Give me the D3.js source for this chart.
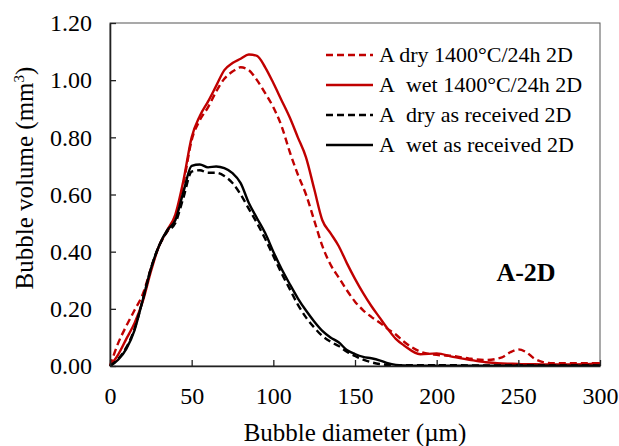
<!DOCTYPE html>
<html>
<head>
<meta charset="utf-8">
<script src="https://cdn.jsdelivr.net/npm/d3@7"></script>
<style>
  body { margin: 0; background: #fff; }
  svg text { font-family: "Liberation Serif", "Times New Roman", Times, "DejaVu Serif", serif; fill: #000; }
</style>
</head>
<body>
<svg id="chart" width="619" height="446"></svg>
<script>
// bubble diameter (um)
var diameters = [0, 5, 10, 15, 20, 25, 30, 35, 40, 45, 50, 55, 60, 65, 70, 75, 80, 85, 90, 95,
  100, 105, 110, 115, 120, 125, 130, 135, 140, 145, 150, 155, 160, 165, 170, 175, 180,
  190, 200, 210, 220, 230, 240, 245, 250, 255, 260, 270, 280, 290, 300];

var dry1400 = [0, 0.08, 0.14, 0.195, 0.25, 0.34, 0.42, 0.47, 0.52, 0.64, 0.79, 0.86, 0.905, 0.96, 1.005, 1.03, 1.045, 1.035, 1.00, 0.955,
  0.905, 0.84, 0.75, 0.67, 0.60, 0.51, 0.42, 0.355, 0.31, 0.265, 0.225, 0.195, 0.172, 0.152, 0.13, 0.11, 0.085,
  0.05, 0.039, 0.035, 0.026, 0.021, 0.03, 0.048, 0.058, 0.048, 0.025, 0.01, 0.01, 0.01, 0.01];

var wet1400 = [0, 0.04, 0.095, 0.15, 0.225, 0.33, 0.42, 0.475, 0.53, 0.65, 0.80, 0.875, 0.925, 0.98, 1.035, 1.06, 1.075, 1.09, 1.085, 1.045,
  0.99, 0.93, 0.87, 0.80, 0.73, 0.62, 0.51, 0.465, 0.42, 0.36, 0.305, 0.255, 0.21, 0.17, 0.13, 0.095, 0.072,
  0.041, 0.044, 0.032, 0.022, 0.013, 0.009, 0.008, 0.007, 0.006, 0.006, 0.005, 0.005, 0.006, 0.01];

var dryReceived = [0, 0.025, 0.065, 0.13, 0.23, 0.34, 0.42, 0.47, 0.50, 0.59, 0.68, 0.685, 0.676, 0.676, 0.665, 0.64, 0.60, 0.55, 0.50, 0.445,
  0.385, 0.325, 0.27, 0.215, 0.17, 0.135, 0.105, 0.085, 0.07, 0.05, 0.035, 0.022, 0.013, 0.007, 0.004, 0.003, 0.003,
  0.003, 0.003, 0.003, 0.002, 0.002, 0.002, 0.002, 0.002, 0.002, 0.002, 0.002, 0.002, 0.002, 0.002];

var wetReceived = [0, 0.022, 0.06, 0.125, 0.23, 0.34, 0.42, 0.475, 0.51, 0.61, 0.70, 0.705, 0.695, 0.698, 0.692, 0.675, 0.64, 0.57, 0.517, 0.465,
  0.40, 0.34, 0.287, 0.237, 0.194, 0.156, 0.123, 0.10, 0.083, 0.056, 0.042, 0.032, 0.027, 0.02, 0.01, 0.004, 0.002,
  0.001, 0.001, 0.001, 0.001, 0.001, 0.001, 0.001, 0.001, 0.001, 0.001, 0.001, 0.001, 0.001, 0.001];

var xTicks = [0, 50, 100, 150, 200, 250, 300];
var yTicks = [0, 0.2, 0.4, 0.6, 0.8, 1.0, 1.2];

var seriesNames = ["A dry 1400°C/24h 2D", "A\u00A0 wet 1400°C/24h 2D", "A\u00A0 dry as received 2D", "A\u00A0 wet as received 2D"];
var seriesValues = [dry1400, wet1400, dryReceived, wetReceived];
var seriesColors = ["#C00000", "#C00000", "#000000", "#000000"];
var seriesDashed = [true, false, true, false];

var serif = "'Liberation Serif', 'Times New Roman', Times, 'DejaVu Serif', serif";

var svg = d3.select("#chart");
var margin = { left: 110, right: 19, top: 23, bottom: 80 };
var width = 619, height = 446;

var x = d3.scaleLinear().domain([0, 300]).range([margin.left, width - margin.right]);
var y = d3.scaleLinear().domain([0, 1.2]).range([height - margin.bottom, margin.top]);

// plot frame (top and right)
svg.append("rect")
  .attr("x", x(0)).attr("y", y(1.2))
  .attr("width", x(300) - x(0)).attr("height", y(0) - y(1.2))
  .attr("fill", "none").attr("stroke", "#555").attr("stroke-width", 1);

// curves
var line = d3.line()
  .x(function(d) { return x(d[0]); })
  .y(function(d) { return y(d[1]); })
  .curve(d3.curveMonotoneX);

seriesValues.forEach(function(vals, i) {
  var pts = diameters.map(function(d, j) { return [d, vals[j]]; });
  svg.append("path")
    .datum(pts)
    .attr("d", line)
    .attr("fill", "none")
    .attr("stroke", seriesColors[i])
    .attr("stroke-width", 2.4)
    .attr("stroke-dasharray", seriesDashed[i] ? "7,4" : null);
});

// axes
var xAxis = d3.axisBottom(x).tickValues(xTicks).tickSizeInner(-6).tickSizeOuter(0).tickPadding(21)
  .tickFormat(d3.format("d"));
var yAxis = d3.axisLeft(y).tickValues(yTicks).tickSizeInner(-6).tickSizeOuter(0).tickPadding(18)
  .tickFormat(d3.format(".2f"));

var gx = svg.append("g").attr("transform", "translate(0," + y(0) + ")").call(xAxis);
var gy = svg.append("g").attr("transform", "translate(" + x(0) + ",0)").call(yAxis);

[gx, gy].forEach(function(g) {
  g.attr("font-family", serif);
  g.select(".domain").attr("stroke", "#222").attr("stroke-width", 1.6);
  g.selectAll(".tick line").attr("stroke", "#222").attr("stroke-width", 1.3);
  g.selectAll(".tick text")
    .style("font-family", serif)
    .attr("font-size", 24).attr("fill", "#000");
});

// axis titles
svg.append("text")
  .attr("x", 355).attr("y", 441)
  .attr("text-anchor", "middle")
  .style("font-family", serif)
  .attr("font-size", 25)
  .text("Bubble diameter (µm)");

var yTitle = svg.append("text")
  .attr("transform", "translate(33,178) rotate(-90)")
  .attr("text-anchor", "middle")
  .style("font-family", serif)
  .attr("font-size", 25);
yTitle.append("tspan").text("Bubble volume (mm");
yTitle.append("tspan").attr("font-size", 15).attr("dy", -9).text("3");
yTitle.append("tspan").attr("dy", 9).text(")");

// legend
var legend = svg.append("g");
seriesNames.forEach(function(name, i) {
  var ly = 55 + i * 30;
  legend.append("line")
    .attr("x1", 326).attr("x2", 373).attr("y1", ly).attr("y2", ly)
    .attr("stroke", seriesColors[i]).attr("stroke-width", 2.4)
    .attr("stroke-dasharray", seriesDashed[i] ? "7,4" : null);
  legend.append("text")
    .attr("x", 379).attr("y", ly + 7)
    .style("font-family", serif)
    .attr("font-size", 22)
    .text(name);
});

// panel label
svg.append("text")
  .attr("x", 526).attr("y", 281)
  .attr("text-anchor", "middle")
  .style("font-family", serif)
  .attr("font-size", 26).attr("font-weight", "bold")
  .text("A-2D");
</script>
</body>
</html>
